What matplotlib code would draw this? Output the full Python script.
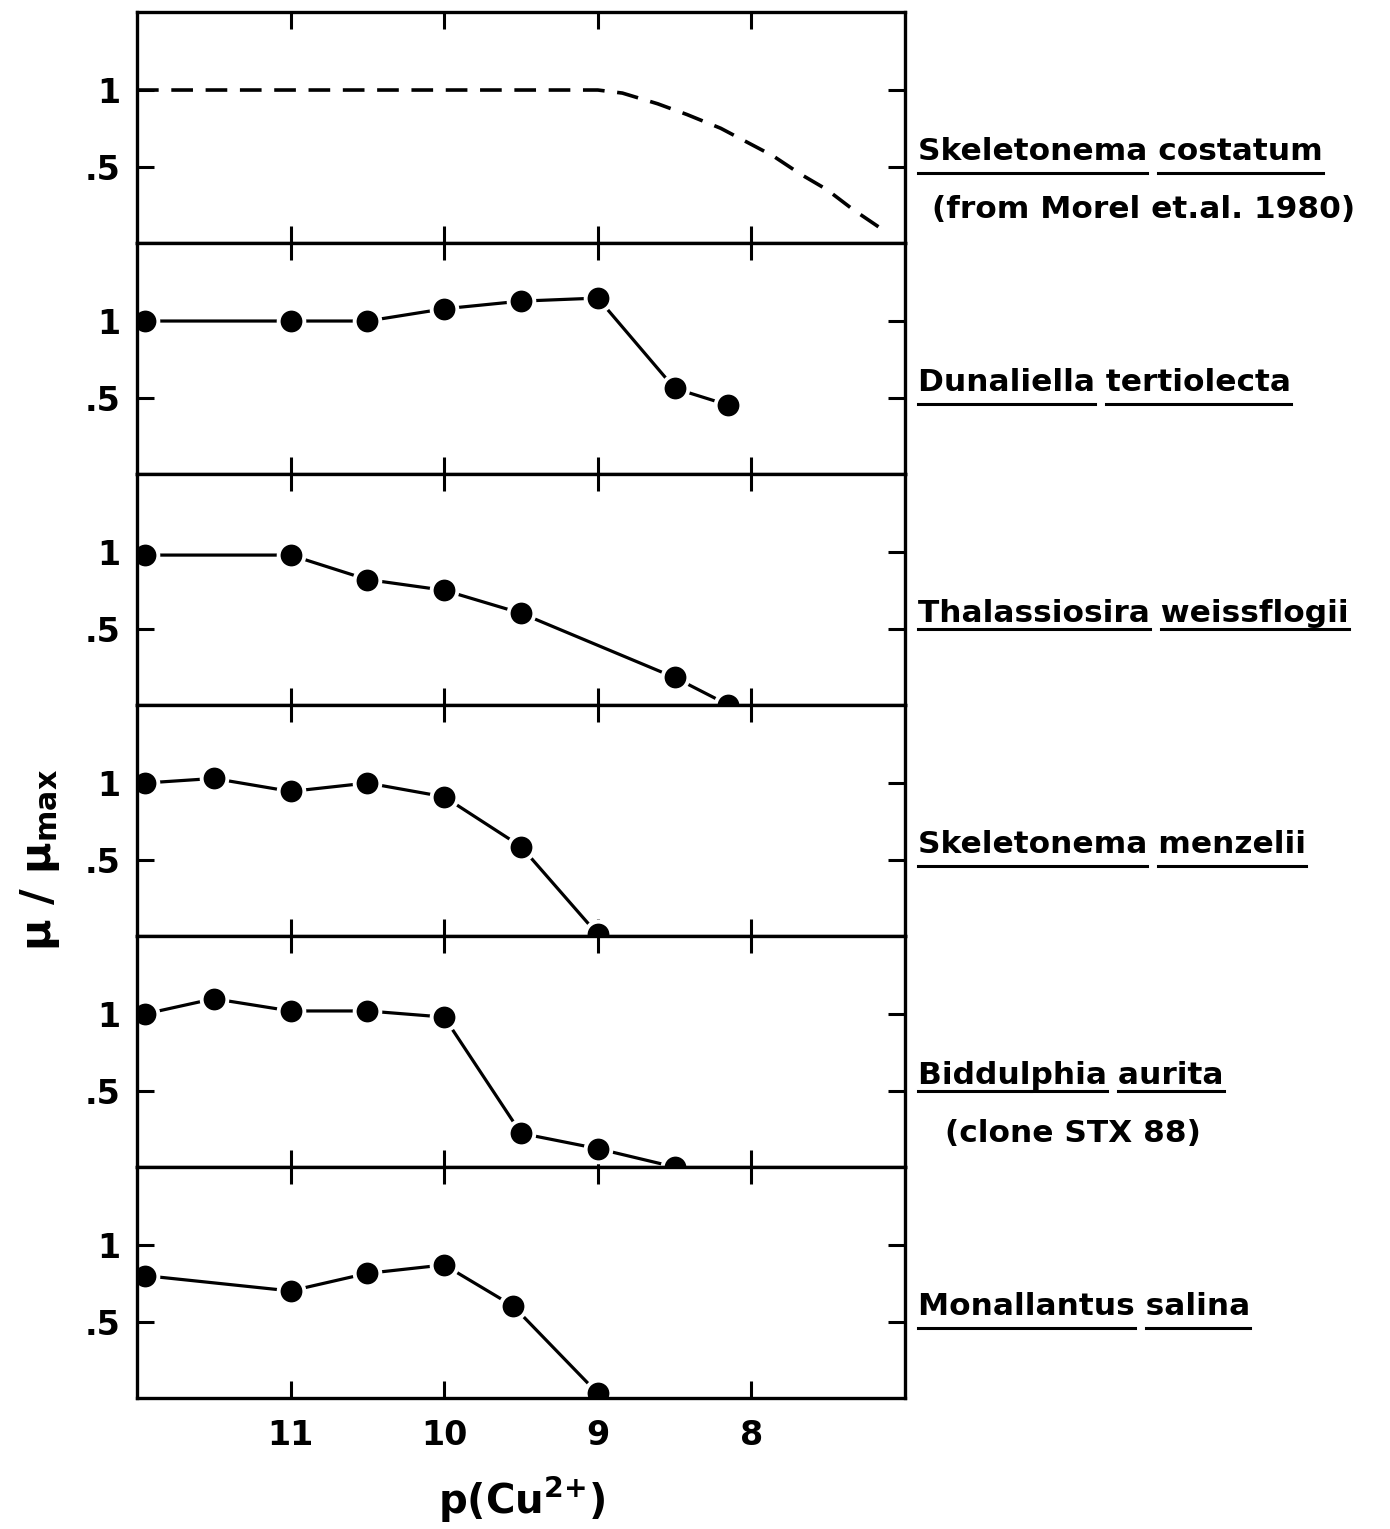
import matplotlib
matplotlib.use('Agg')
import matplotlib.pyplot as plt
from matplotlib.lines import Line2D
from matplotlib.font_manager import FontProperties

plt.rcParams['font.family'] = ['DejaVu Sans']
plt.rcParams['font.weight'] = 'bold'
plt.rcParams['mathtext.fontset'] = 'dejavusans'
plt.rcParams['mathtext.default'] = 'bf'

# Growth rate (mu / mu_max) versus p(Cu2+)
p_costatum = [12.0, 9.0, 8.84, 8.61, 8.42, 8.20, 8.03, 7.86, 7.68, 7.51, 7.34, 7.12]
mu_costatum = [1.0, 1.0, 0.98, 0.91, 0.84, 0.75, 0.66, 0.57, 0.45, 0.35, 0.22, 0.07]

p_dunaliella = [11.95, 11.0, 10.5, 10.0, 9.5, 9.0, 8.5, 8.15]
mu_dunaliella = [1.0, 1.0, 1.0, 1.08, 1.13, 1.15, 0.56, 0.45]

p_thalassiosira = [11.95, 11.0, 10.5, 10.0, 9.5, 8.5, 8.15]
mu_thalassiosira = [0.98, 0.98, 0.82, 0.75, 0.60, 0.18, 0.0]

p_menzelii = [11.95, 11.5, 11.0, 10.5, 10.0, 9.5, 9.0]
mu_menzelii = [1.0, 1.03, 0.945, 1.0, 0.91, 0.585, 0.01]

p_biddulphia = [11.95, 11.5, 11.0, 10.5, 10.0, 9.5, 9.0, 8.5]
mu_biddulphia = [1.0, 1.1, 1.02, 1.02, 0.98, 0.22, 0.12, 0.0]

p_monallantus = [11.95, 11.0, 10.5, 10.0, 9.55, 9.0]
mu_monallantus = [0.80, 0.70, 0.815, 0.87, 0.60, 0.03]

# (main line, optional second line, words/segments to underline)
labels = [
    ('Skeletonema costatum', '(from Morel et.al. 1980)', ['Skeletonema', 'costatum']),
    ('Dunaliella tertiolecta', None, ['Dunaliella', 'tertiolecta']),
    ('Thalassiosira weissflogii', None, ['Thalassiosira', 'weissflogii']),
    ('Skeletonema menzelii', None, ['Skeletonema', 'menzelii']),
    ('Biddulphia aurita', '(clone STX 88)', ['Biddul', 'phia', 'aurita']),
    ('Monallantus salina', None, ['Monallantus', 'salina']),
]
series = [
    (p_costatum, mu_costatum),
    (p_dunaliella, mu_dunaliella),
    (p_thalassiosira, mu_thalassiosira),
    (p_menzelii, mu_menzelii),
    (p_biddulphia, mu_biddulphia),
    (p_monallantus, mu_monallantus),
]
x_ticks = [11, 10, 9, 8]
y_ticks = [0.5, 1.0]
y_ticklabels = ['.5', '1']

W, H = 1390, 1529
fig, axes = plt.subplots(nrows=6, sharex=True, figsize=(W / 100, H / 100), dpi=100)
fig.subplots_adjust(left=137 / W, right=905 / W, top=1 - 12 / H, bottom=1 - 1398 / H, hspace=0)

label_size = 22.5
second_x = [1.035, None, None, None, 1.052, None]
text_objs = []

for i, ax in enumerate(axes):
    px, mu = series[i]
    if i == 0:
        # literature curve, dashed
        ax.plot(px, mu, color='black', lw=2.6, dashes=(6, 3.5))
    else:
        ax.plot(px, mu, color='black', lw=2.3, marker='o', markersize=18.5,
                markerfacecolor='black', markeredgecolor='white', markeredgewidth=2.8)

    ax.set_xlim(12, 7)
    ax.set_ylim(0, 1.51)
    ax.set_yticks(y_ticks, y_ticklabels)
    ax.set_xticks(x_ticks)
    ax.tick_params(direction='in', top=True, right=True, length=12, width=2.2,
                   labelsize=24, pad=12)
    for sp in ax.spines.values():
        sp.set_linewidth(2.4)

    main, second, under = labels[i]
    t = ax.text(1.017, 0.395, main, transform=ax.transAxes, fontsize=label_size,
                va='center', ha='left')
    text_objs.append((t, main, under))
    if second is not None:
        ax.text(second_x[i], 0.145, second, transform=ax.transAxes, fontsize=label_size,
                va='center', ha='left')

axes[-1].tick_params(axis='x', pad=15)
for ax in axes[:-1]:
    ax.tick_params(axis='x', labelbottom=False)

fig.text(40 / W, 1 - 860 / H, r'$\mu$ / $\mu_{max}$', rotation=90, fontsize=31,
         ha='center', va='center')
fig.text(521 / W, 1 - 1500 / H, r'p(Cu$^{2{+}}$)', fontsize=29, ha='center', va='center')

# underline the species names (word by word, like the hand lettering)
fig.canvas.draw()
renderer = fig.canvas.get_renderer()
fp = FontProperties(family='DejaVu Sans', weight='bold', size=label_size)


def text_width(s):
    w, h, d = renderer.get_text_width_height_descent(s, fp, ismath=False)
    return w


inv = fig.transFigure.inverted()
for t, line, words in text_objs:
    bb = t.get_window_extent(renderer)
    _, _, descent = renderer.get_text_width_height_descent(line, fp, ismath=False)
    base = bb.y0 + descent
    y_u = base - 7
    for w in words:
        end = line.index(w) + len(w)
        x1 = bb.x0 + text_width(line[:end])
        x0 = x1 - text_width(w)
        (fx0, fy), (fx1, _) = inv.transform([(x0, y_u), (x1, y_u)])
        fig.add_artist(Line2D([fx0, fx1], [fy, fy], transform=fig.transFigure,
                              color='black', lw=2.2))

fig.savefig('out.png', dpi=100)
